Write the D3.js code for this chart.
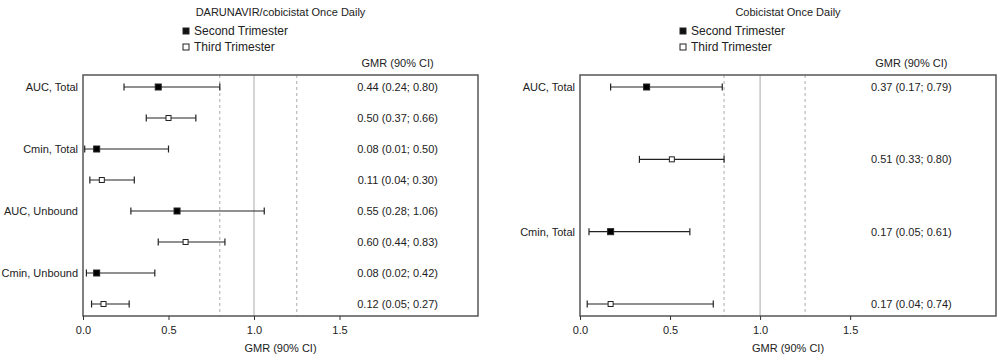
<!DOCTYPE html>
<html>
<head>
<meta charset="utf-8">
<script src="https://cdn.jsdelivr.net/npm/d3@7"></script>
<style>
    body { margin: 0; background: #fff; }
    svg { display: block; font-family: "Liberation Sans", Arial, sans-serif; }
</style>
</head>
<body>
<svg id="graph" width="999" height="361"></svg>
<script>
    // Left panel data
    var leftTitle = "DARUNAVIR/cobicistat Once Daily";
    var leftCategories = ["AUC, Total", "Cmin, Total", "AUC, Unbound", "Cmin, Unbound"];
    var leftSecond = [0.44, 0.08, 0.55, 0.08];
    var leftSecondLo = [0.24, 0.01, 0.28, 0.02];
    var leftSecondHi = [0.80, 0.50, 1.06, 0.42];
    var leftThird = [0.50, 0.11, 0.60, 0.12];
    var leftThirdLo = [0.37, 0.04, 0.44, 0.05];
    var leftThirdHi = [0.66, 0.30, 0.83, 0.27];

    // Right panel data
    var rightTitle = "Cobicistat Once Daily";
    var rightCategories = ["AUC, Total", "Cmin, Total"];
    var rightSecond = [0.37, 0.17];
    var rightSecondLo = [0.17, 0.05];
    var rightSecondHi = [0.79, 0.61];
    var rightThird = [0.51, 0.17];
    var rightThirdLo = [0.33, 0.04];
    var rightThirdHi = [0.80, 0.74];

    var legendLabels = ["Second Trimester", "Third Trimester"];
    var xTicks = [0, 0.5, 1.0, 1.5];
    var refLines = [0.8, 1.25];
    var xMax = 2.31;

    var svg = d3.select("#graph");
    var fmt = d3.format(".2f");

    function buildRows(cats, s, sLo, sHi, t, tLo, tHi) {
        var rows = [];
        cats.forEach(function (c, i) {
            rows.push({ label: c, gmr: s[i], lo: sLo[i], hi: sHi[i], filled: true });
            rows.push({ label: "", gmr: t[i], lo: tLo[i], hi: tHi[i], filled: false });
        });
        return rows;
    }

    function panel(opts) {
        var rows = opts.rows;
        var g = svg.append("g");

        var x = d3.scaleLinear().domain([0, xMax]).range([opts.left, opts.right]);
        var y = d3.scalePoint().domain(d3.range(rows.length)).range([87, 304]);
        var top = 75, bottom = 316;
        var mid = (opts.left + opts.right) / 2;

        // title
        g.append("text")
            .attr("x", mid).attr("y", 16)
            .attr("text-anchor", "middle")
            .style("font-size", "11px")
            .attr("fill", "#222")
            .text(opts.title);

        // legend
        legendLabels.forEach(function (l, i) {
            var ly = 31 + i * 16;
            g.append("rect")
                .attr("x", opts.legendX - 3).attr("y", ly - 3)
                .attr("width", 6).attr("height", 6)
                .attr("fill", i === 0 ? "#111" : "#fff")
                .attr("stroke", "#222").attr("stroke-width", 1);
            g.append("text")
                .attr("x", opts.legendX + 8).attr("y", ly + 4)
                .style("font-size", "12px")
                .attr("fill", "#222")
                .text(l);
        });

        // column header
        g.append("text")
            .attr("x", x(1.84)).attr("y", 67)
            .attr("text-anchor", "middle")
            .style("font-size", "11px")
            .attr("fill", "#222")
            .text("GMR (90% CI)");

        // reference lines
        g.selectAll(".ref")
            .data(refLines)
            .enter().append("line")
            .attr("x1", function (d) { return x(d); })
            .attr("x2", function (d) { return x(d); })
            .attr("y1", top).attr("y2", bottom)
            .attr("stroke", "#aaa")
            .attr("stroke-dasharray", "3,3");

        g.append("line")
            .attr("x1", x(1)).attr("x2", x(1))
            .attr("y1", top).attr("y2", bottom)
            .attr("stroke", "#aaa");

        // frame
        g.append("rect")
            .attr("x", opts.left).attr("y", top)
            .attr("width", opts.right - opts.left).attr("height", bottom - top)
            .attr("fill", "none")
            .attr("stroke", "#555").attr("stroke-width", 1.5);

        // x axis
        var axis = g.append("g")
            .attr("transform", "translate(0," + bottom + ")")
            .call(d3.axisBottom(x).tickValues(xTicks).tickFormat(d3.format(".1f")).tickSize(4).tickPadding(6));
        axis.select(".domain").remove();
        axis.selectAll("line").attr("stroke", "#333");
        axis.selectAll("text").style("font-size", "11px").attr("fill", "#222")
            .style("font-family", "Liberation Sans, Arial, sans-serif");

        g.append("text")
            .attr("x", mid).attr("y", 352)
            .attr("text-anchor", "middle")
            .style("font-size", "11px")
            .attr("fill", "#222")
            .text("GMR (90% CI)");

        // rows
        var row = g.selectAll(".row")
            .data(rows)
            .enter().append("g")
            .attr("class", "row")
            .attr("transform", function (d, i) { return "translate(0," + y(i) + ")"; });

        row.append("text")
            .attr("x", opts.left - 5).attr("y", 4)
            .attr("text-anchor", "end")
            .style("font-size", "11px")
            .attr("fill", "#222")
            .text(function (d) { return d.label; });

        row.append("line")
            .attr("x1", function (d) { return x(d.lo); })
            .attr("x2", function (d) { return x(d.hi); })
            .attr("stroke", "#222")
            .attr("stroke-width", 1.2);

        row.selectAll(".cap")
            .data(function (d) { return [d.lo, d.hi]; })
            .enter().append("line")
            .attr("x1", function (d) { return x(d); })
            .attr("x2", function (d) { return x(d); })
            .attr("y1", -3.5).attr("y2", 3.5)
            .attr("stroke", "#222")
            .attr("stroke-width", 1.2);

        row.append("rect")
            .attr("x", function (d) { return x(d.gmr) - (d.filled ? 3 : 2.5); })
            .attr("y", function (d) { return d.filled ? -3 : -2.5; })
            .attr("width", function (d) { return d.filled ? 6 : 5; })
            .attr("height", function (d) { return d.filled ? 6 : 5; })
            .attr("fill", function (d) { return d.filled ? "#000" : "#fff"; })
            .attr("stroke", "#222");

        row.append("text")
            .attr("x", x(1.84)).attr("y", 4)
            .attr("text-anchor", "middle")
            .style("font-size", "11px")
            .attr("fill", "#222")
            .text(function (d) { return fmt(d.gmr) + " (" + fmt(d.lo) + "; " + fmt(d.hi) + ")"; });
    }

    panel({
        title: leftTitle,
        rows: buildRows(leftCategories, leftSecond, leftSecondLo, leftSecondHi, leftThird, leftThirdLo, leftThirdHi),
        left: 83, right: 478, legendX: 186
    });

    panel({
        title: rightTitle,
        rows: buildRows(rightCategories, rightSecond, rightSecondLo, rightSecondHi, rightThird, rightThirdLo, rightThirdHi),
        left: 580, right: 996, legendX: 683
    });
</script>
</body>
</html>
